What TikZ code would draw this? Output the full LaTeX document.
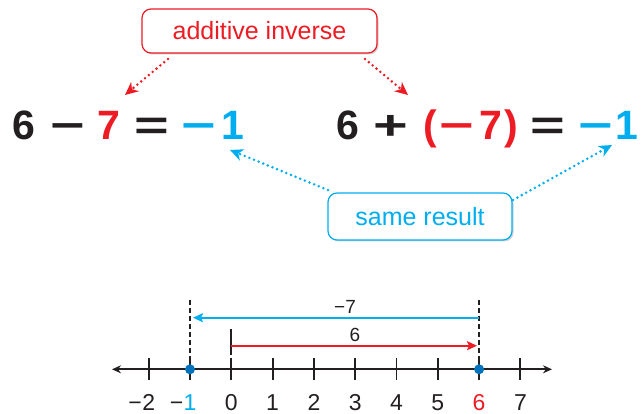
\documentclass[tikz,border=0pt]{standalone}
\usepackage{fontspec}
\setmainfont{Liberation Sans}
\usetikzlibrary{arrows.meta,shadows,calc}
\definecolor{myred}{RGB}{237,28,36}
\definecolor{mycyan}{RGB}{0,174,239}
\definecolor{dotblue}{RGB}{0,114,188}
\definecolor{ink}{RGB}{35,31,32}
\newcommand\widesym[1]{\scalebox{1.45}[1]{#1}}
\begin{document}
\begin{tikzpicture}[x=1pt,y=-1pt,
  eq/.style={inner sep=0pt, anchor=base, font=\fontsize{41}{41}\selectfont\bfseries},
  callout/.style={draw, rounded corners=9pt, line width=1.2pt, fill=white, inner sep=0pt,
    font=\fontsize{25}{25}\selectfont,
    drop shadow={shadow xshift=1.5pt, shadow yshift=-1.5pt, fill=black!35}},
  pointer/.style={line width=2.8pt, line cap=round, dash pattern=on 0pt off 5pt,
    -{Stealth[length=13pt,width=12pt,inset=4pt]}},
  tickmark/.style={line width=1.9pt, draw=ink},
  numlab/.style={inner sep=0pt, anchor=base, font=\fontsize{23}{23}\selectfont, text=ink},
  toplab/.style={inner sep=0pt, font=\fontsize{19}{19}\selectfont, text=ink},
  ndot/.style={circle, fill=dotblue, inner sep=0pt, minimum size=10pt},
  guide/.style={line width=1.9pt, draw=ink, dash pattern=on 5pt off 3pt}
]
\useasboundingbox (0,0) rectangle (643,414);

% callout boxes
\node[callout, draw=myred, text=myred, minimum width=235pt, minimum height=44pt] (ai) at (259.5,31) {additive inverse};
\node[callout, draw=mycyan, text=mycyan, minimum width=184pt, minimum height=47pt] (sr) at (420,216.5) {same result};

% left equation
\node[eq, text=ink] (l6) at (24,140) {6};
\node[eq, text=ink] (lmin) at (68,140) {\widesym{−}};
\node[eq, text=myred] (l7) at (109,140) {7};
\node[eq, text=ink] (leq) at (152,140) {\widesym{=}};
\node[eq, text=mycyan] (lneg) at (199,140) {\widesym{−}};
\node[eq, text=mycyan] (l1) at (232.5,140) {1};

% right equation
\node[eq, text=ink] (r6) at (347.5,140) {6};
\node[eq, text=ink] (rplus) at (391,140) {\widesym{+}};
\node[eq, text=myred] (rlp) at (430,140) {(};
\node[eq, text=myred] (rmin) at (457,140) {\widesym{−}};
\node[eq, text=myred] (r7) at (491,140) {7};
\node[eq, text=myred] (rrp) at (511,140) {)};
\node[eq, text=ink] (req) at (548,140) {\widesym{=}};
\node[eq, text=mycyan] (rneg) at (596,140) {\widesym{−}};
\node[eq, text=mycyan] (r1) at (626.5,140) {1};

% pointers
\coordinate (ais1) at (168,59);
\coordinate (ait1) at (125,95);
\coordinate (ais2) at (365,59);
\coordinate (ait2) at (408,95);
\coordinate (srs1) at (328,190);
\coordinate (srt1) at (230,150);
\coordinate (srs2) at (513,200);
\coordinate (srt2) at (612,145);
\draw[pointer, myred] (ais1) -- (ait1);
\draw[pointer, myred] (ais2) -- (ait2);
\draw[pointer, mycyan] (srs1) -- (srt1);
\draw[pointer, mycyan] (srs2) -- (srt2);

% number line
\coordinate (axl) at (112,369.3);
\coordinate (axr) at (552,369.3);
\draw[line width=2pt, ink, {Stealth[length=9pt,width=8pt]}-{Stealth[length=9pt,width=8pt]}] (axl) -- (axr);
\foreach \i in {-2,...,7}
  \draw[tickmark] ({231.3+41.3*\i},358) -- ({231.3+41.3*\i},380);
\foreach \i in {0,...,5,7}
  \node[numlab] (n\i) at ({231.3+41.3*\i},410.5) {\i};
\node[numlab, text=myred] (n6) at ({231.3+41.3*6},410.5) {6};
\node[numlab, text=mycyan] (nm1) at ({231.3-41.3},410.5) {1};
\node[numlab, anchor=base east] (nm1s) at (nm1.base west) {−};
\node[numlab] (nm2) at ({231.3-2*41.3},410.5) {2};
\node[numlab, anchor=base east] (nm2s) at (nm2.base west) {−};

% guides
\coordinate (gm1t) at (190,300);
\coordinate (gm1b) at (190,369.3);
\coordinate (g6t) at (479.1,300);
\coordinate (g6b) at (479.1,369.3);
\draw[guide] (gm1t) -- (gm1b);
\draw[guide] (g6t) -- (g6b);
\node[ndot] (dm1) at (gm1b) {};
\node[ndot] (d6) at (g6b) {};

% jumps
\coordinate (bs) at (479.1,317.7);
\coordinate (be) at (193,317.7);
\draw[mycyan, line width=2.2pt, -{Stealth[length=10pt,width=9pt,inset=2pt]}] (bs) -- (be);
\node[toplab] (lab7) at (345,306.5) {−7};
\coordinate (zt) at (231.3,329);
\coordinate (zb) at (231.3,355);
\draw[tickmark] (zt) -- (zb);
\coordinate (rs) at (231.3,345.7);
\coordinate (re) at (477,345.7);
\draw[myred, line width=2.2pt, -{Stealth[length=10pt,width=9pt,inset=2pt]}] (rs) -- (re);
\node[toplab] (lab6) at (355,335) {6};
\end{tikzpicture}
\end{document}
